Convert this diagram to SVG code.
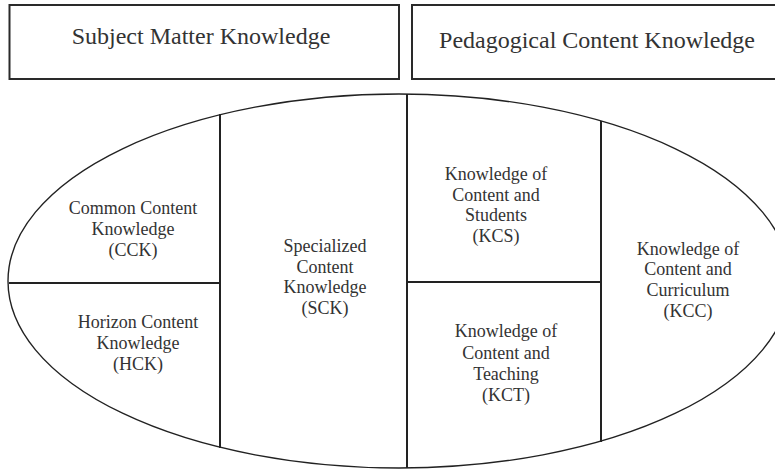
<svg xmlns="http://www.w3.org/2000/svg" width="775" height="469" viewBox="0 0 775 469">
<style>
.box{fill:#fff;stroke:#2a2a2a;stroke-width:2}
.oval{fill:none;stroke:#222;stroke-width:1.4}
.div{stroke:#222;stroke-width:2;fill:none}
text{font-family:'Liberation Serif','Times New Roman',serif;fill:#333;text-anchor:middle}
.big{font-size:24px}
.sm{font-size:18px}
</style>
<rect width="775" height="469" fill="#fff"/>
<g id="subject-matter-knowledge">
<rect class="box" x="9.5" y="5" width="389.5" height="74"/>
<text class="big" x="201" y="44">Subject Matter Knowledge</text>
</g>
<g id="pedagogical-content-knowledge">
<rect class="box" x="412" y="5" width="370" height="74"/>
<text class="big" x="597" y="48">Pedagogical Content Knowledge</text>
</g>
<g id="oval">
<ellipse class="oval" cx="399" cy="281" rx="391" ry="187"/>
</g>
<g id="dividers">
<line class="div" x1="220" y1="114" x2="220" y2="448"/>
<line class="div" x1="407" y1="94" x2="407" y2="468"/>
<line class="div" x1="601" y1="121" x2="601" y2="442"/>
<line class="div" x1="9" y1="283" x2="220" y2="283"/>
<line class="div" x1="407" y1="282" x2="601" y2="282"/>
</g>
<g id="cck">
<text class="sm" x="133" y="214">Common Content</text>
<text class="sm" x="133" y="235">Knowledge</text>
<text class="sm" x="133" y="256">(CCK)</text>
</g>
<g id="hck">
<text class="sm" x="138" y="328">Horizon Content</text>
<text class="sm" x="138" y="349">Knowledge</text>
<text class="sm" x="138" y="370">(HCK)</text>
</g>
<g id="sck">
<text class="sm" x="325" y="252">Specialized</text>
<text class="sm" x="325" y="273">Content</text>
<text class="sm" x="325" y="293">Knowledge</text>
<text class="sm" x="325" y="314">(SCK)</text>
</g>
<g id="kcs">
<text class="sm" x="496" y="180">Knowledge of</text>
<text class="sm" x="496" y="201">Content and</text>
<text class="sm" x="496" y="221">Students</text>
<text class="sm" x="496" y="242">(KCS)</text>
</g>
<g id="kct">
<text class="sm" x="506" y="337">Knowledge of</text>
<text class="sm" x="506" y="359">Content and</text>
<text class="sm" x="506" y="380">Teaching</text>
<text class="sm" x="506" y="401">(KCT)</text>
</g>
<g id="kcc">
<text class="sm" x="688" y="255">Knowledge of</text>
<text class="sm" x="688" y="275">Content and</text>
<text class="sm" x="688" y="296">Curriculum</text>
<text class="sm" x="688" y="317">(KCC)</text>
</g>
</svg>
